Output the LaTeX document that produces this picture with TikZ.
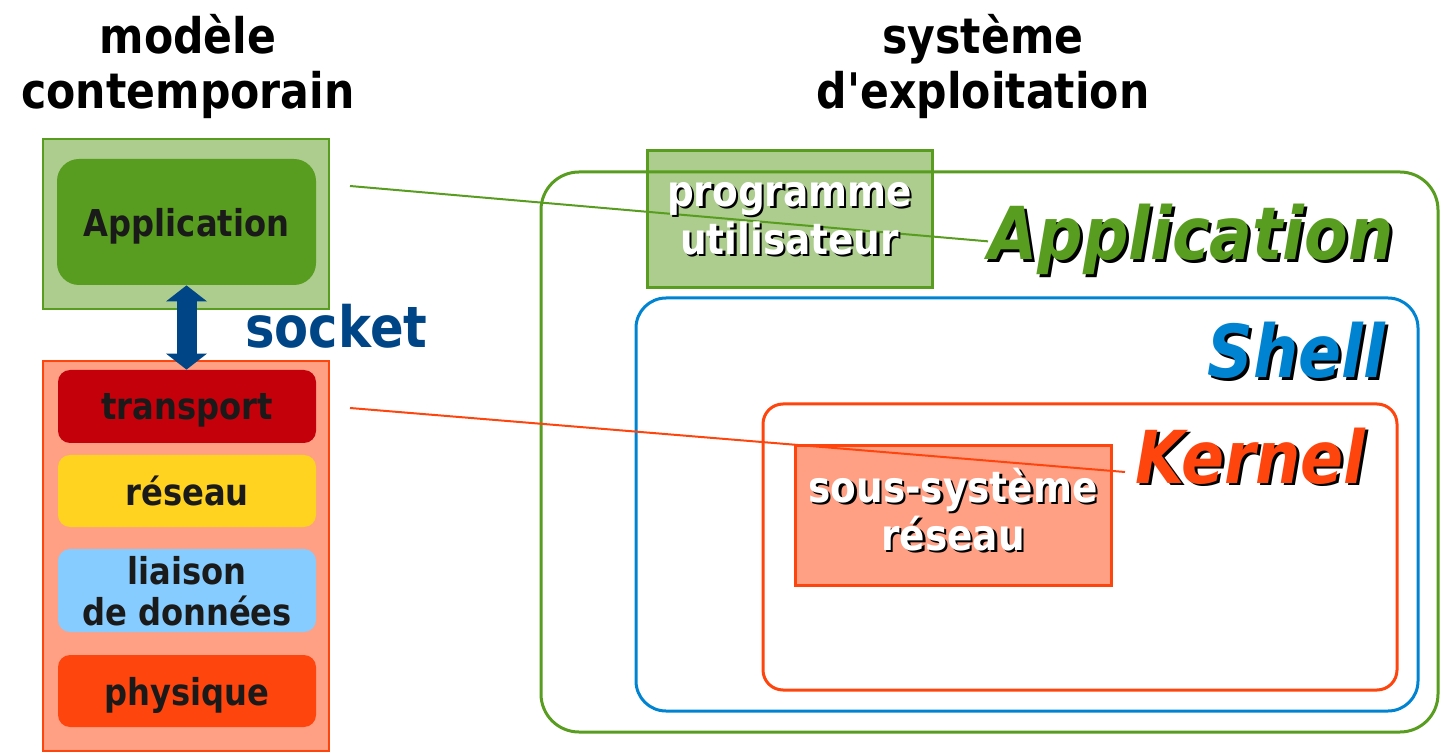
\documentclass[tikz,border=0pt]{standalone}
\usepackage{fontspec}
\setmainfont{DejaVu Sans}[FakeStretch=0.87, Ligatures=TeXOff]
\usetikzlibrary{arrows.meta}

\definecolor{appgreen}{RGB}{88,157,31}
\definecolor{palegreen}{RGB}{172,205,142}
\definecolor{salmon}{RGB}{255,160,132}
\definecolor{kernorange}{RGB}{255,69,14}
\definecolor{transred}{RGB}{196,0,11}
\definecolor{netyellow}{RGB}{255,211,32}
\definecolor{linkblue}{RGB}{135,204,255}
\definecolor{shellblue}{RGB}{0,132,209}
\definecolor{sockblue}{RGB}{0,69,134}
\definecolor{inkdark}{RGB}{26,26,26}

% text with a black drop shadow: colour, text, offset
\newcommand{\shadowed}[3]{\makebox[0pt][l]{\hspace{#3}\raisebox{-#3}{\textcolor{black}{#2}}}\textcolor{#1}{#2}}

\tikzset{
  layer/.style={rounded corners=6pt, minimum width=129pt, minimum height=36pt, inner sep=0pt, text depth=0pt, align=center, text=inkdark, font=\bfseries\fontsize{18.5}{20.5}\selectfont},
  heading/.style={align=center, inner sep=0pt, font=\bfseries\fontsize{24.5}{27.5}\selectfont},
  osword/.style={inner sep=0pt, anchor=base west, font=\bfseries\itshape\fontsize{36.5}{40}\selectfont},
  subword/.style={align=center, inner sep=0pt, font=\bfseries\fontsize{21.5}{24}\selectfont},
  link/.style={line width=1pt},
  sockarrow/.style={draw=sockblue, line width=10pt, {Triangle[width=20.5pt,length=8pt,line width=0pt]}-{Triangle[width=20.5pt,length=8pt,line width=0pt]}}
}

\begin{document}
\begin{tikzpicture}[x=0.5pt,y=-0.5pt]
    \useasboundingbox (0,0) rectangle (1440,753);

    % Text Node
    \node[heading] (modeltitle) at (188,67) {modèle\\contemporain};
    % Text Node
    \node[heading] (ostitle) at (983,67) {système\\d'exploitation};

    %Shape: Rectangle
    \draw[appgreen, fill=palegreen, line width=1pt] (43,139) rectangle (329,309);
    %Shape: Rectangle
    \draw[kernorange, fill=salmon, line width=1pt] (43,361) rectangle (329,751);

    % layers
    \node[layer, fill=appgreen, minimum width=129.5pt, minimum height=63pt, rounded corners=11pt] (appinner) at (186.5,222) {Application};
    \node[layer, fill=transred, minimum height=36.5pt] (tlayer) at (187,406.5) {transport};
    \node[layer, fill=netyellow] (nlayer) at (187,491) {réseau};
    \node[layer, fill=linkblue, minimum height=41.5pt] (llayer) at (187,590.5) {liaison\\de données};
    \node[layer, fill=kernorange] (player) at (187,691) {physique};

    % socket
    \draw[sockarrow] (appinner.south) -- (appinner.south |- tlayer.north);
    \node[font=\bfseries\fontsize{28.5}{30}\selectfont, text=sockblue, anchor=base west, inner sep=0pt] (socket) at (245,348) {socket};

    %Shape: Rectangle
    \node[draw=appgreen, fill=palegreen, line width=1.5pt, minimum width=142.5pt, minimum height=68.5pt] (progbox) at (789.5,219.5) {};
    %Shape: Rounded Rectangle
    \draw[appgreen, line width=1.5pt, rounded corners=19pt] (541,172) rectangle (1438,732);
    %Shape: Rounded Rectangle
    \draw[shellblue, line width=1.5pt, rounded corners=15pt] (636,298) rectangle (1418,711);
    %Shape: Rounded Rectangle
    \draw[kernorange, line width=1.5pt, rounded corners=10pt] (763,404) rectangle (1397,690);
    %Shape: Rectangle
    \node[draw=kernorange, fill=salmon, line width=1.5pt, minimum width=158pt, minimum height=69.5pt] (netbox) at (953,515.5) {};

    % Text Node
    \node[osword] (bigapp) at (988,260) {\shadowed{appgreen}{Application}{1.5pt}};
    \node[osword] (shell) at (1207,378) {\shadowed{shellblue}{Shell}{1.5pt}};
    \node[osword] (kernel) at (1135,483) {\shadowed{kernorange}{Kernel}{1.5pt}};

    % links
    \coordinate (applink) at (350,186);
    \coordinate (netlink) at (350,408);
    \coordinate (kernlink) at (1125,472);
    \draw[appgreen, link] (applink) -- (bigapp.west);
    \draw[kernorange, link] (netlink) -- (kernlink);

    % Text Node
    \node[subword] (progtext) at (progbox.center) {\shadowed{white}{programme}{1.2pt}\\\shadowed{white}{utilisateur}{1.2pt}};
    \node[subword] (nettext) at ([yshift=2.5pt]netbox.center) {\shadowed{white}{sous-système}{1.2pt}\\\shadowed{white}{réseau}{1.2pt}};

\end{tikzpicture}
\end{document}
